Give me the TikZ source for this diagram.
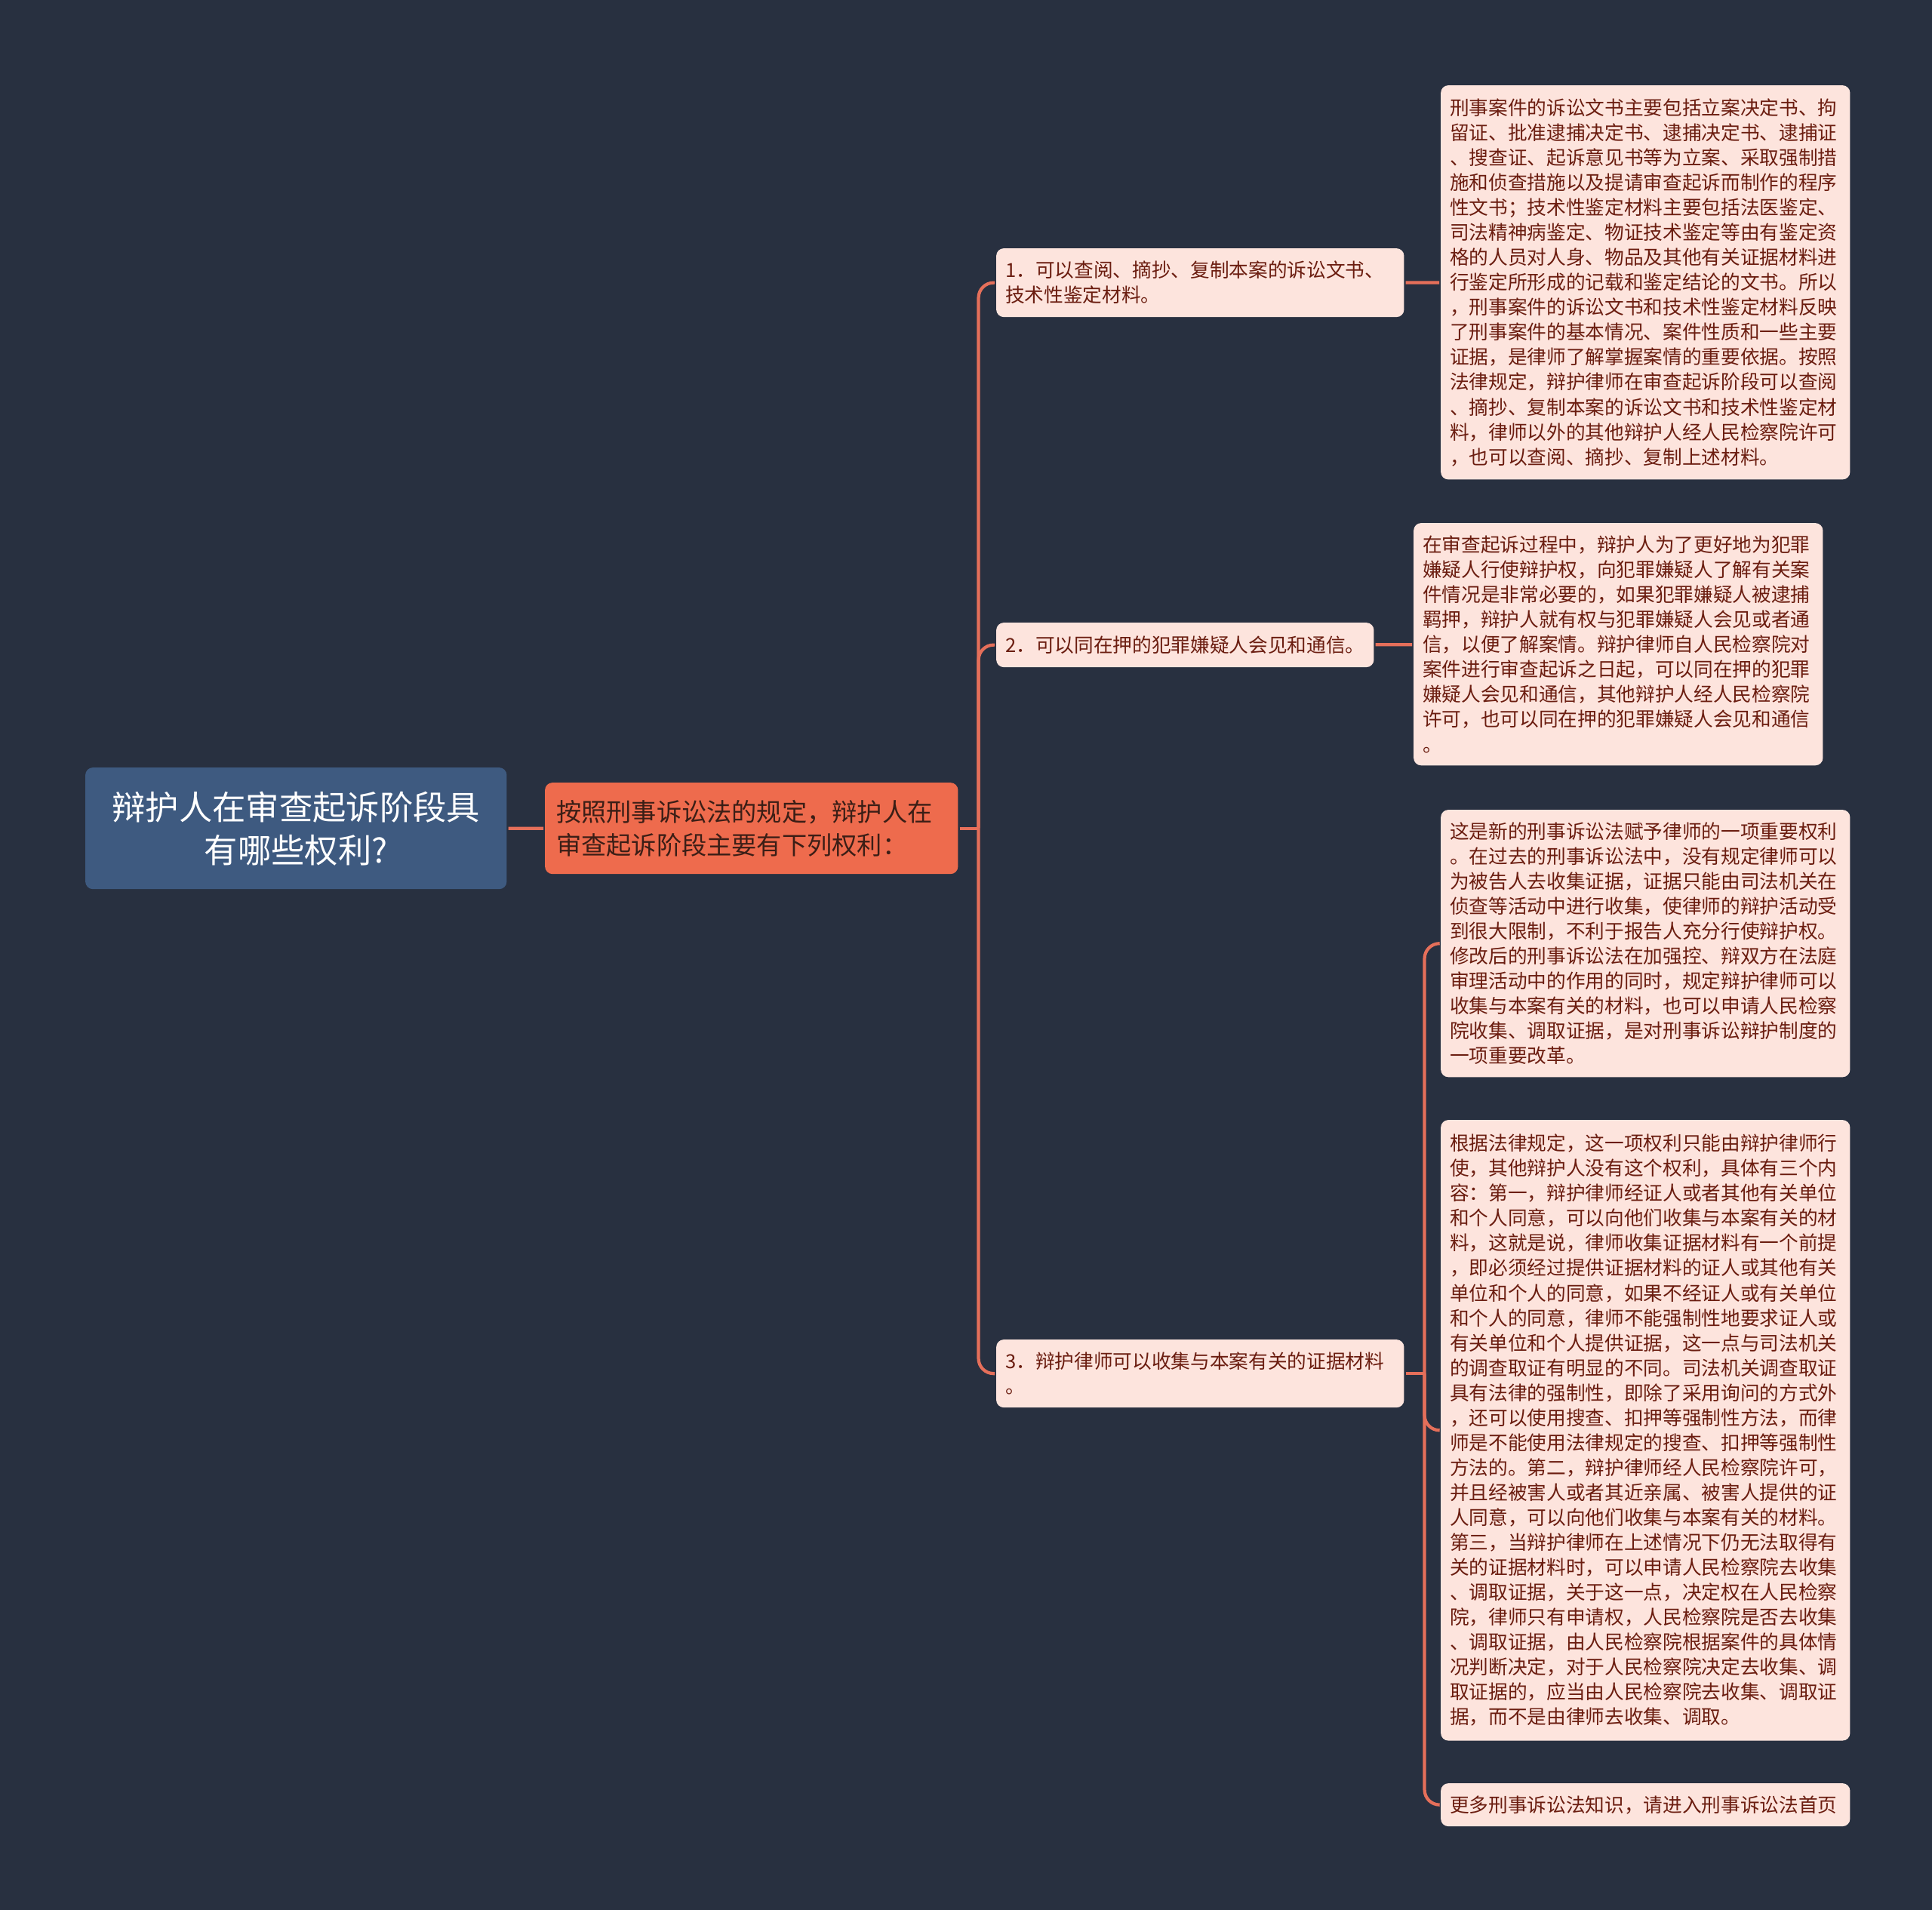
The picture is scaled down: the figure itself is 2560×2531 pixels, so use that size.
\documentclass[tikz,border=0pt]{standalone}
\usepackage{fontspec}
\setmainfont{Noto Sans CJK SC}
\definecolor{bgcol}{HTML}{283040}
\definecolor{linkcol}{HTML}{E56F5A}
\definecolor{rootcol}{HTML}{3E5A80}
\definecolor{maincol}{HTML}{EE6B4D}
\definecolor{leafcol}{HTML}{FDE4DD}
\definecolor{leaftext}{HTML}{6B1D10}
\definecolor{maintext}{HTML}{3B1E16}

\begin{document}
\begin{tikzpicture}[x=0.01cm, y=-0.01cm,
	every path/.style={line width=1.2pt},
	link/.style={draw=linkcol, rounded corners=0.2cm},
	rootbox/.style={fill=rootcol, text=white, rounded corners=0.1cm,
				anchor=north west, align=center, text width=5.3cm,
				inner xsep=0.14cm, minimum height=1.61cm,
				font=\fontsize{12.6pt}{16.2pt}\selectfont},
	mainbox/.style={fill=maincol, text=maintext, rounded corners=0.1cm,
				anchor=north west, align=left, text width=5.17cm,
				inner xsep=0.15cm, minimum height=1.21cm,
				font=\fontsize{9.45pt}{12.5pt}\selectfont},
	leaf/.style={fill=leafcol, text=leaftext, rounded corners=0.1cm,
				anchor=north west, align=left, inner xsep=0.12cm,
				font=\fontsize{7.3pt}{9.4pt}\selectfont}]
	\fill[bgcol] (0,0) rectangle (2560,2531);

	\node[rootbox] (root) at (111,1015) {辩护人在审查起诉阶段具\\有哪些权利?};
	\node[mainbox] (l1) at (720,1035) {按照刑事诉讼法的规定，辩护人在\\审查起诉阶段主要有下列权利：};

	% rights
	\node[leaf, text width=5.16cm, minimum height=0.91cm] (c1) at (1318,327)
		{1．可以查阅、摘抄、复制本案的诉讼文书、\\技术性鉴定材料。};
	\node[leaf, minimum height=0.59cm] (c2) at (1318,823)
		{2．可以同在押的犯罪嫌疑人会见和通信。};
	\node[leaf, text width=5.16cm, minimum height=0.90cm] (c3) at (1318,1773)
		{3．辩护律师可以收集与本案有关的证据材料\\。};

	% explanations
	\node[leaf, text width=5.18cm, minimum height=5.22cm] (t1) at (1907,111)
		{刑事案件的诉讼文书主要包括立案决定书、拘\\
		留证、批准逮捕决定书、逮捕决定书、逮捕证\\
		、搜查证、起诉意见书等为立案、采取强制措\\
		施和侦查措施以及提请审查起诉而制作的程序\\
		性文书；技术性鉴定材料主要包括法医鉴定、\\
		司法精神病鉴定、物证技术鉴定等由有鉴定资\\
		格的人员对人身、物品及其他有关证据材料进\\
		行鉴定所形成的记载和鉴定结论的文书。所以\\
		，刑事案件的诉讼文书和技术性鉴定材料反映\\
		了刑事案件的基本情况、案件性质和一些主要\\
		证据，是律师了解掌握案情的重要依据。按照\\
		法律规定，辩护律师在审查起诉阶段可以查阅\\
		、摘抄、复制本案的诉讼文书和技术性鉴定材\\
		料，律师以外的其他辩护人经人民检察院许可\\
		，也可以查阅、摘抄、复制上述材料。};
	\node[leaf, text width=5.18cm, minimum height=3.21cm] (t2) at (1871,691)
		{在审查起诉过程中，辩护人为了更好地为犯罪\\
		嫌疑人行使辩护权，向犯罪嫌疑人了解有关案\\
		件情况是非常必要的，如果犯罪嫌疑人被逮捕\\
		羁押，辩护人就有权与犯罪嫌疑人会见或者通\\
		信，以便了解案情。辩护律师自人民检察院对\\
		案件进行审查起诉之日起，可以同在押的犯罪\\
		嫌疑人会见和通信，其他辩护人经人民检察院\\
		许可，也可以同在押的犯罪嫌疑人会见和通信\\
		。};
	\node[leaf, text width=5.18cm, minimum height=3.54cm] (t3) at (1907,1071)
		{这是新的刑事诉讼法赋予律师的一项重要权利\\
		。在过去的刑事诉讼法中，没有规定律师可以\\
		为被告人去收集证据，证据只能由司法机关在\\
		侦查等活动中进行收集，使律师的辩护活动受\\
		到很大限制，不利于报告人充分行使辩护权。\\
		修改后的刑事诉讼法在加强控、辩双方在法庭\\
		审理活动中的作用的同时，规定辩护律师可以\\
		收集与本案有关的材料，也可以申请人民检察\\
		院收集、调取证据，是对刑事诉讼辩护制度的\\
		一项重要改革。};
	\node[leaf, text width=5.18cm, minimum height=8.22cm] (t4) at (1907,1482)
		{根据法律规定，这一项权利只能由辩护律师行\\
		使，其他辩护人没有这个权利，具体有三个内\\
		容：第一，辩护律师经证人或者其他有关单位\\
		和个人同意，可以向他们收集与本案有关的材\\
		料，这就是说，律师收集证据材料有一个前提\\
		，即必须经过提供证据材料的证人或其他有关\\
		单位和个人的同意，如果不经证人或有关单位\\
		和个人的同意，律师不能强制性地要求证人或\\
		有关单位和个人提供证据，这一点与司法机关\\
		的调查取证有明显的不同。司法机关调查取证\\
		具有法律的强制性，即除了采用询问的方式外\\
		，还可以使用搜查、扣押等强制性方法，而律\\
		师是不能使用法律规定的搜查、扣押等强制性\\
		方法的。第二，辩护律师经人民检察院许可，\\
		并且经被害人或者其近亲属、被害人提供的证\\
		人同意，可以向他们收集与本案有关的材料。\\
		第三，当辩护律师在上述情况下仍无法取得有\\
		关的证据材料时，可以申请人民检察院去收集\\
		、调取证据，关于这一点，决定权在人民检察\\
		院，律师只有申请权，人民检察院是否去收集\\
		、调取证据，由人民检察院根据案件的具体情\\
		况判断决定，对于人民检察院决定去收集、调\\
		取证据的，应当由人民检察院去收集、调取证\\
		据，而不是由律师去收集、调取。};
	\node[leaf, text width=5.18cm, minimum height=0.57cm] (t5) at (1907,2361)
		{更多刑事诉讼法知识，请进入刑事诉讼法首页};

	% connectors
	\coordinate (bus) at ([xshift=0.25cm]l1.east);
	\coordinate (fork) at ([xshift=0.25cm]c3.east);
	\draw[link] (root) -- (l1);
	\draw[link] (l1) -- (bus);
	\foreach \c in {c1,c2,c3}
		\draw[link] (bus) |- (\c.west);
	\draw[link] (c1) -- (t1);
	\draw[link] (c2) -- (t2);
	\draw[link] (c3) -- (fork);
	\foreach \t in {t3,t4,t5}
		\draw[link] (fork) |- (\t.west);
\end{tikzpicture}
\end{document}
